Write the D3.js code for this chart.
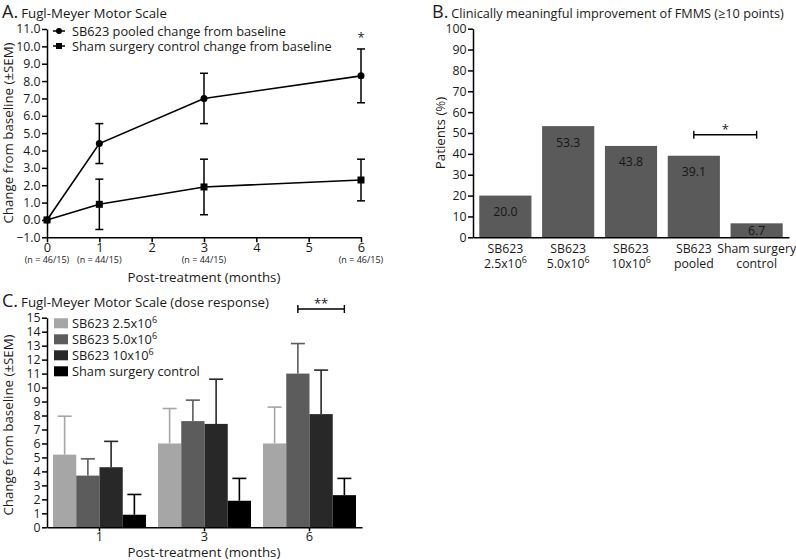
<!DOCTYPE html>
<html><head><meta charset="utf-8">
<script src="https://cdn.jsdelivr.net/npm/d3@7"></script>
<style>body{margin:0;background:#fff}svg{display:block;font-family:"Open Sans",sans-serif}</style>
</head><body>
<svg id="c" width="796" height="560"></svg>
<script>
// ---- Panel A data ----
const monthsA = [0, 1, 3, 6];
const nLabelsA = ["(n = 46/15)", "(n = 44/15)", "(n = 44/15)", "(n = 46/15)"];
const sb623Mean = [0, 4.4, 7.0, 8.3];
const sb623Sem = [0, 1.15, 1.45, 1.55];
const shamMean = [0, 0.9, 1.9, 2.3];
const shamSem = [0, 1.45, 1.6, 1.2];
const ticksA = [-1, 0, 1, 2, 3, 4, 5, 6, 7, 8, 9, 10, 11];
// ---- Panel B data ----
const groupsB = [["SB623", "2.5x10", "6"], ["SB623", "5.0x10", "6"], ["SB623", "10x10", "6"], ["SB623", "pooled", ""], ["Sham surgery", "control", ""]];
const pctB = [20.0, 53.3, 43.8, 39.1, 6.7];
const ticksB = [0, 10, 20, 30, 40, 50, 60, 70, 80, 90, 100];
// ---- Panel C data ----
const monthsC = ["1", "3", "6"];
const seriesC = ["SB623 2.5x10", "SB623 5.0x10", "SB623 10x10", "Sham surgery control"];
const supC = ["6", "6", "6", ""];
const meanC = [[5.2, 3.7, 4.3, 0.9], [6.0, 7.6, 7.4, 1.9], [6.0, 11.0, 8.1, 2.3]];
const semC = [[2.75, 1.2, 1.85, 1.45], [2.5, 1.5, 3.2, 1.6], [2.6, 2.15, 3.15, 1.2]];
const ticksC = d3.range(0, 16);
const colorsC = ["#a6a6a6", "#5c5c5c", "#282828", "#000000"];

const svg = d3.select("#c");
const txt = "#1a1a1a";
const FT = 13.3, FL = 12.8, FK = 12.3;

function title(x, y, letter, rest, fs) {
  const t = svg.append("text").attr("x", x).attr("y", y).attr("fill", txt);
  t.append("tspan").attr("font-size", 18).text(letter);
  t.append("tspan").attr("font-size", fs || FT).attr("dx", 3).text(rest);
}
function ylab(x, y, s) {
  svg.append("text").attr("transform", `translate(${x},${y}) rotate(-90)`).attr("text-anchor", "middle")
    .attr("dy", "0.35em").attr("font-size", FT).attr("fill", txt).text(s);
}
function styleAxis(g) {
  g.selectAll("path,line").attr("stroke", "#000").attr("stroke-width", 1.5);
  g.selectAll("text").attr("fill", txt).attr("font-family", "Open Sans");
}

// ================= Panel A =================
{
  const x = d3.scaleLinear().domain([0, 6]).range([47, 361]);
  const y = d3.scaleLinear().domain([-1, 11]).range([237.3, 29]);
  title(2, 18, "A.", "Fugl-Meyer Motor Scale");
  ylab(8, 133, "Change from baseline (±SEM)");
  const ya = svg.append("g").attr("transform", "translate(47,0)")
    .call(d3.axisLeft(y).tickValues(ticksA).tickFormat(d => d3.format(".1f")(d).replace("-", "−")).tickSize(5).tickPadding(1.5).tickSizeOuter(0));
  ya.selectAll("text").attr("font-size", FK);
  styleAxis(ya);
  const xa = svg.append("g").attr("transform", "translate(0,237.3)")
    .call(d3.axisBottom(x).ticks(6).tickSize(5).tickSizeOuter(0));
  xa.selectAll("text").attr("font-size", FK + 0.5).attr("dy", "0.5em");
  styleAxis(xa);
  svg.append("g").selectAll("text").data(monthsA).join("text")
    .attr("x", d => x(d)).attr("y", 263).attr("text-anchor", "middle").attr("font-size", 9).attr("fill", txt)
    .text((d, i) => nLabelsA[i]);
  svg.append("text").attr("x", 204).attr("y", 282).attr("text-anchor", "middle").attr("font-size", FT).attr("fill", txt)
    .text("Post-treatment (months)");

  const line = d3.line().x((d, i) => x(monthsA[i])).y(d => y(d));
  [[sb623Mean, sb623Sem, "circle"], [shamMean, shamSem, "square"]].forEach(([m, s, shp]) => {
    svg.append("path").attr("d", line(m)).attr("fill", "none").attr("stroke", "#000").attr("stroke-width", 1.6);
    const g = svg.append("g");
    m.forEach((v, i) => {
      if (s[i] > 0) {
        const cx = x(monthsA[i]);
        g.append("line").attr("x1", cx).attr("x2", cx).attr("y1", y(v - s[i])).attr("y2", y(v + s[i])).attr("stroke", "#000").attr("stroke-width", 1.5);
        [v - s[i], v + s[i]].forEach(e => g.append("line").attr("x1", cx - 4).attr("x2", cx + 4).attr("y1", y(e)).attr("y2", y(e)).attr("stroke", "#000").attr("stroke-width", 1.5));
      }
      if (shp === "circle") g.append("circle").attr("cx", x(monthsA[i])).attr("cy", y(v)).attr("r", 3.5).attr("fill", "#000");
      else g.append("rect").attr("x", x(monthsA[i]) - 3.5).attr("y", y(v) - 3.5).attr("width", 7).attr("height", 7).attr("fill", "#000");
    });
  });
  svg.append("text").attr("x", x(6)).attr("y", y(sb623Mean[3] + sb623Sem[3]) - 7).attr("text-anchor", "middle").attr("font-size", 13).attr("fill", txt).text("*");
  // legend
  const leg = [["SB623 pooled change from baseline", "circle"], ["Sham surgery control change from baseline", "square"]];
  leg.forEach(([s, shp], i) => {
    const ly = 31 + i * 15;
    svg.append("line").attr("x1", 53).attr("x2", 65).attr("y1", ly).attr("y2", ly).attr("stroke", "#000").attr("stroke-width", 1.5);
    if (shp === "circle") svg.append("circle").attr("cx", 59).attr("cy", ly).attr("r", 3).attr("fill", "#000");
    else svg.append("rect").attr("x", 56).attr("y", ly - 3).attr("width", 6).attr("height", 6).attr("fill", "#000");
    svg.append("text").attr("x", 72).attr("y", ly + 4.5).attr("font-size", FL).attr("fill", txt).text(s);
  });
}

// ================= Panel B =================
{
  const x = d3.scaleBand().domain(d3.range(pctB.length)).range([473, 789]).paddingInner(0.17).paddingOuter(0.1);
  const y = d3.scaleLinear().domain([0, 100]).range([237.3, 28.7]);
  title(432, 18, "B.", "Clinically meaningful improvement of FMMS (≥10 points)", 12.7);
  ylab(440, 133, "Patients (%)");
  svg.append("g").selectAll("rect").data(pctB).join("rect")
    .attr("x", (d, i) => x(i)).attr("width", x.bandwidth()).attr("y", d => y(d)).attr("height", d => y(0) - y(d)).attr("fill", "#5a5a5a");
  svg.append("g").selectAll("text").data(pctB).join("text")
    .attr("x", (d, i) => x(i) + x.bandwidth() / 2).attr("y", d => Math.min(y(d) + 16, y(0) - 7) + 4.5)
    .attr("text-anchor", "middle").attr("font-size", 12.3).attr("fill", "#151515").text(d => d.toFixed(1));
  const ya = svg.append("g").attr("transform", "translate(473,0)")
    .call(d3.axisLeft(y).tickValues(ticksB).tickSize(5).tickPadding(1.5).tickSizeOuter(0));
  ya.selectAll("text").attr("font-size", FK);
  styleAxis(ya);
  const xa = svg.append("g").attr("transform", "translate(0,237.3)")
    .call(d3.axisBottom(x).tickSize(0).tickSizeOuter(0).tickFormat(""));
  styleAxis(xa);
  const lab = svg.append("g").selectAll("text").data(groupsB).join("text")
    .attr("text-anchor", "middle").attr("font-size", 12.3).attr("fill", txt);
  lab.append("tspan").attr("x", (d, i) => x(i) + x.bandwidth() / 2).attr("y", 252.5).text(d => d[0]);
  const l2 = lab.append("tspan").attr("x", (d, i) => x(i) + x.bandwidth() / 2).attr("y", 268);
  l2.append("tspan").text(d => d[1]);
  l2.append("tspan").attr("dy", -5).attr("font-size", 9).text(d => d[2]);
  // significance bracket
  const bx1 = x(3) + x.bandwidth() / 2, bx2 = x(4) + x.bandwidth() / 2, by = 134.7;
  svg.append("path").attr("d", `M${bx1},${by - 4}V${by + 4}M${bx1},${by}H${bx2}M${bx2},${by - 4}V${by + 4}`).attr("stroke", "#000").attr("stroke-width", 1.4).attr("fill", "none");
  svg.append("text").attr("x", (bx1 + bx2) / 2).attr("y", by - 1).attr("text-anchor", "middle").attr("font-size", 13).attr("fill", txt).text("*");
}

// ================= Panel C =================
{
  const x0 = d3.scaleBand().domain(monthsC).range([47, 362]);
  const x1 = d3.scaleBand().domain(d3.range(seriesC.length)).range([6, x0.bandwidth() - 6]);
  const y = d3.scaleLinear().domain([0, 15]).range([527.3, 317.7]);
  title(2, 307, "C.", "Fugl-Meyer Motor Scale (dose response)");
  ylab(8, 425, "Change from baseline (±SEM)");
  monthsC.forEach((m, gi) => {
    const g = svg.append("g").attr("transform", `translate(${x0(m)},0)`);
    meanC[gi].forEach((v, si) => {
      const bx = x1(si), cx = bx + x1.bandwidth() / 2;
      const top = y(v + semC[gi][si]);
      g.append("line").attr("x1", cx).attr("x2", cx).attr("y1", y(v)).attr("y2", top).attr("stroke", colorsC[si]).attr("stroke-width", 1.6);
      g.append("line").attr("x1", cx - 7).attr("x2", cx + 7).attr("y1", top).attr("y2", top).attr("stroke", colorsC[si]).attr("stroke-width", 1.6);
      g.append("rect").attr("x", bx).attr("width", x1.bandwidth()).attr("y", y(v)).attr("height", y(0) - y(v)).attr("fill", colorsC[si]);
    });
  });
  const ya = svg.append("g").attr("transform", "translate(47,0)")
    .call(d3.axisLeft(y).tickValues(ticksC).tickSize(5).tickPadding(1.5).tickSizeOuter(0));
  ya.selectAll("text").attr("font-size", FK);
  styleAxis(ya);
  const xa = svg.append("g").attr("transform", "translate(0,527.3)")
    .call(d3.axisBottom(x0).tickSize(4).tickSizeOuter(0));
  xa.selectAll("text").attr("font-size", FK + 0.5).attr("dy", "0.55em");
  styleAxis(xa);
  svg.append("text").attr("x", 204).attr("y", 557).attr("text-anchor", "middle").attr("font-size", FT).attr("fill", txt)
    .text("Post-treatment (months)");
  // legend
  seriesC.forEach((s, i) => {
    const ly = 323.3 + i * 16;
    svg.append("rect").attr("x", 54).attr("y", ly - 5).attr("width", 14).attr("height", 10).attr("fill", colorsC[i]);
    const t = svg.append("text").attr("x", 72).attr("y", ly + 4.5).attr("font-size", FL).attr("fill", txt);
    t.append("tspan").text(s);
    t.append("tspan").attr("dy", -5).attr("font-size", 9).text(supC[i]);
  });
  // bracket
  const bx1 = x0("6") + x1(1) + x1.bandwidth() / 2, bx2 = x0("6") + x1(3) + x1.bandwidth() / 2, by = 309;
  svg.append("path").attr("d", `M${bx1},${by - 4}V${by + 4}M${bx1},${by}H${bx2}M${bx2},${by - 4}V${by + 4}`).attr("stroke", "#000").attr("stroke-width", 1.4).attr("fill", "none");
  svg.append("text").attr("x", (bx1 + bx2) / 2).attr("y", by - 1).attr("text-anchor", "middle").attr("font-size", 13).attr("fill", txt).text("**");
}
</script>
</body></html>
